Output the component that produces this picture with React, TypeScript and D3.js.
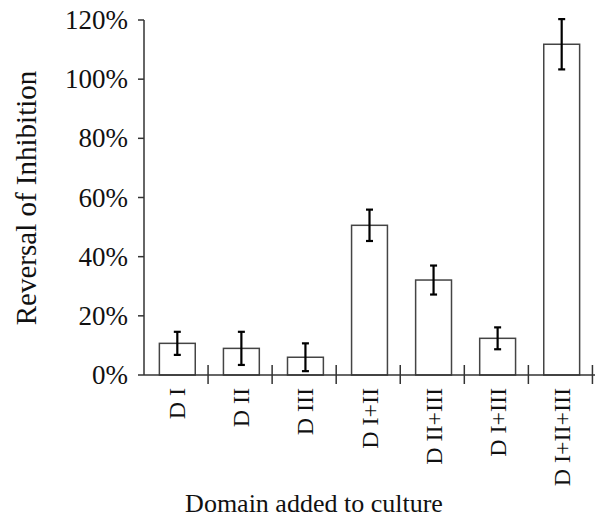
import React, { useEffect, useRef } from "react";
import * as d3 from "d3";

const categories = ["D I", "D II", "D III", "D I+II", "D II+III", "D I+III", "D I+II+III"];
const values = [0.107, 0.09, 0.06, 0.506, 0.321, 0.124, 1.118];
const errors = [0.039, 0.056, 0.047, 0.053, 0.049, 0.037, 0.085];
const yTicks = [0, 0.2, 0.4, 0.6, 0.8, 1.0, 1.2];

const App = () => {
  const ref = useRef<SVGSVGElement>(null);

  useEffect(() => {
    const width = 601;
    const height = 517;
    const left = 144, right = 595, top = 20, bottom = 375;
    const font = "'Liberation Serif', 'Times New Roman', serif";

    const svg = d3.select(ref.current)
      .attr("width", width)
      .attr("height", height);

    svg.selectAll("*").remove();

    const x = d3.scaleBand<string>()
      .domain(categories)
      .range([left, right])
      .paddingInner(0.44)
      .paddingOuter(0.24);

    const y = d3.scaleLinear()
      .domain([0, 1.2])
      .range([bottom, top]);

    const axisColor = "#333";

    // bars
    svg.selectAll("rect.bar")
      .data(values)
      .enter()
      .append("rect")
      .attr("class", "bar")
      .attr("x", (_, i) => x(categories[i])!)
      .attr("y", d => y(d))
      .attr("width", x.bandwidth())
      .attr("height", d => bottom - y(d))
      .attr("fill", "#fff")
      .attr("stroke", "#444")
      .attr("stroke-width", 1.5);

    // error bars
    const eb = svg.append("g").attr("stroke", "#000").attr("stroke-width", 2.2);
    values.forEach((v, i) => {
      const cx = x(categories[i])! + x.bandwidth() / 2;
      const lo = Math.max(0, v - errors[i]);
      const hi = v + errors[i];
      eb.append("line").attr("x1", cx).attr("x2", cx).attr("y1", y(lo)).attr("y2", y(hi));
      eb.append("line").attr("x1", cx - 3.5).attr("x2", cx + 3.5).attr("y1", y(lo)).attr("y2", y(lo));
      eb.append("line").attr("x1", cx - 3.5).attr("x2", cx + 3.5).attr("y1", y(hi)).attr("y2", y(hi));
    });

    // y axis
    const ya = svg.append("g").attr("stroke", axisColor).attr("stroke-width", 1.5);
    ya.append("line").attr("x1", left).attr("x2", left).attr("y1", y(1.2)).attr("y2", bottom);
    yTicks.forEach(t => {
      ya.append("line").attr("x1", left - 6).attr("x2", left).attr("y1", y(t)).attr("y2", y(t));
    });
    svg.append("g")
      .selectAll("text")
      .data(yTicks)
      .enter()
      .append("text")
      .attr("x", left - 16)
      .attr("y", d => y(d) + 9)
      .attr("text-anchor", "end")
      .attr("font-family", font)
      .attr("font-size", 27)
      .attr("fill", "#111")
      .text(d => d3.format(".0%")(d));

    // x axis, ticks between categories
    const xa = svg.append("g").attr("stroke", axisColor).attr("stroke-width", 1.5);
    xa.append("line").attr("x1", left).attr("x2", right).attr("y1", bottom).attr("y2", bottom);
    categories.forEach((c, i) => {
      const bx = left + (i + 1) * x.step();
      xa.append("line").attr("x1", bx).attr("x2", bx).attr("y1", bottom - 10).attr("y2", bottom + 9);
    });

    svg.append("g")
      .selectAll("text")
      .data(categories)
      .enter()
      .append("text")
      .attr("transform", d => `translate(${x(d)! + x.bandwidth() / 2 + 8},388) rotate(-90)`)
      .attr("text-anchor", "end")
      .attr("font-family", font)
      .attr("font-size", 24)
      .attr("fill", "#111")
      .text(d => d);

    // titles
    svg.append("text")
      .attr("x", 314)
      .attr("y", 512)
      .attr("text-anchor", "middle")
      .attr("font-family", font)
      .attr("font-size", 26)
      .attr("fill", "#111")
      .text("Domain added to culture");

    svg.append("text")
      .attr("transform", "translate(36,198) rotate(-90)")
      .attr("text-anchor", "middle")
      .attr("font-family", font)
      .attr("font-size", 29)
      .attr("fill", "#111")
      .text("Reversal of Inhibition");
  }, []);

  return <svg ref={ref} style={{ position: "absolute", left: 0, top: 0 }}></svg>;
};

export default App;
